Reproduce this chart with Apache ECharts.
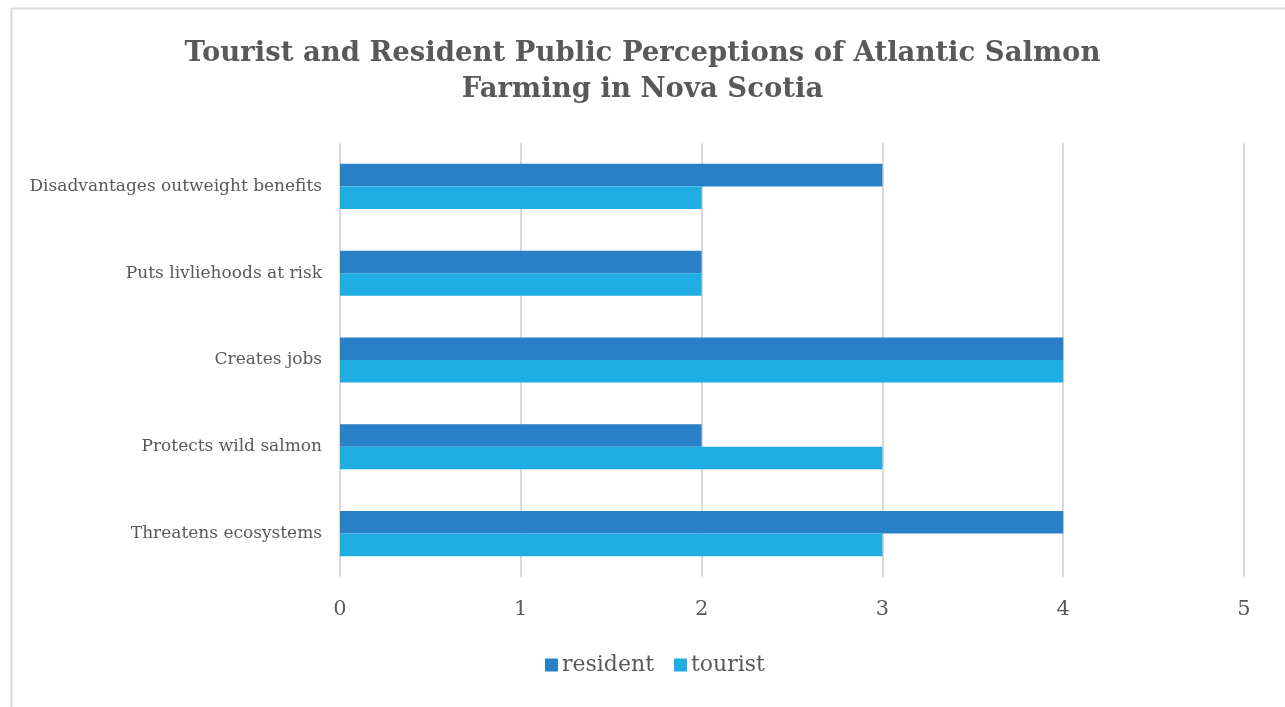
<!DOCTYPE html>
<html>
<head>
<meta charset="utf-8">
<script src="https://cdn.jsdelivr.net/npm/echarts@6/dist/echarts.min.js"></script>
<style>
  html, body { margin: 0; padding: 0; background: #ffffff; }
  #chart { width: 1285px; height: 707px; }
</style>
</head>
<body>
<div id="chart"></div>
<script>
// Survey topics, listed bottom to top as the category axis runs
const categories = [
  'Threatens ecosystems',
  'Protects wild salmon',
  'Creates jobs',
  'Puts livliehoods at risk',
  'Disadvantages outweight benefits'
];
const residentValues = [4, 2, 4, 2, 3];
const touristValues = [3, 3, 4, 2, 2];
const xTicks = [0, 1, 2, 3, 4, 5];

const SERIF = '"DejaVu Serif", "Liberation Serif", serif';
const TEXT = '#595959';

const chart = echarts.init(document.getElementById('chart'), null, { renderer: 'canvas' });

chart.setOption({
  backgroundColor: '#ffffff',
  animation: false,
  graphic: [{
    type: 'rect',
    shape: { x: 11.5, y: 8.5, width: 1300, height: 720 },
    style: { fill: 'none', stroke: '#d9d9d9', lineWidth: 2 },
    silent: true,
    z: -1
  }],
  title: {
    text: 'Tourist and Resident Public Perceptions of Atlantic Salmon\nFarming in Nova Scotia',
    left: 'center',
    top: 31,
    textStyle: {
      fontFamily: SERIF,
      fontWeight: 'bold',
      fontSize: 27.5,
      lineHeight: 36,
      color: TEXT
    }
  },
  legend: {
    data: ['resident', 'tourist'],
    bottom: 26,
    left: 540,
    itemWidth: 13,
    itemHeight: 13,
    itemGap: 20,
    icon: 'rect',
    textStyle: { fontFamily: SERIF, fontSize: 22, color: TEXT, padding: [0, 0, 0, -1] }
  },
  grid: { left: 340, right: 41, top: 143, bottom: 130, containLabel: false },
  xAxis: {
    type: 'value',
    min: xTicks[0],
    max: xTicks[xTicks.length - 1],
    interval: 1,
    axisLine: { show: false },
    axisTick: { show: false },
    axisLabel: {
      fontFamily: SERIF,
      fontSize: 21,
      color: TEXT,
      margin: 22,
      formatter: v => String(v)
    },
    splitLine: { show: true, lineStyle: { color: '#d9d9d9', width: 2 } }
  },
  yAxis: {
    type: 'category',
    data: categories,
    axisLine: { show: false },
    axisTick: { show: false },
    axisLabel: {
      fontFamily: SERIF,
      fontSize: 17,
      color: TEXT,
      margin: 18
    },
    splitLine: { show: false }
  },
  series: [
    {
      name: 'resident',
      type: 'bar',
      data: residentValues,
      itemStyle: { color: '#2a80c6' },
      barGap: '0%',
      barCategoryGap: '48%'
    },
    {
      name: 'tourist',
      type: 'bar',
      data: touristValues,
      itemStyle: { color: '#1fade3' },
      barGap: '0%',
      barCategoryGap: '48%'
    }
  ]
});
</script>
</body>
</html>
